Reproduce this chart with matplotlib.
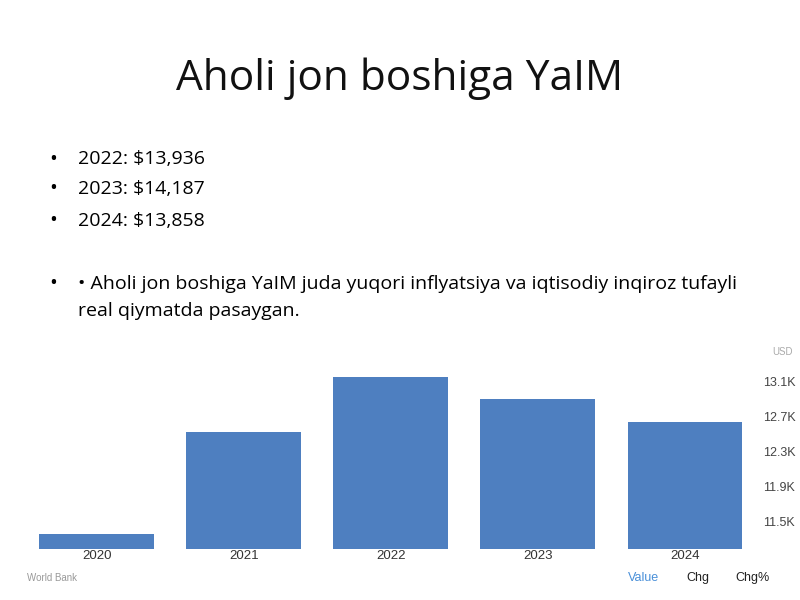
import matplotlib.pyplot as plt

# slide text
title = "Aholi jon boshiga YaIM"
bullets = ["2022: $13,936", "2023: $14,187", "2024: $13,858"]
note = ["• Aholi jon boshiga YaIM juda yuqori inflyatsiya va iqtisodiy inqiroz tufayli",
        "real qiymatda pasaygan."]

# embedded chart data
years = ["2020", "2021", "2022", "2023", "2024"]
values = [11360, 12530, 13160, 12905, 12645]
yticks = [11500, 11900, 12300, 12700, 13100]
ytick_labels = ["11.5K", "11.9K", "12.3K", "12.7K", "13.1K"]

plt.rcParams['font.family'] = ['Open Sans', 'DejaVu Sans']

fig = plt.figure(figsize=(8, 6), dpi=100)
fig.patch.set_facecolor("white")

fig.text(0.5, 0.868, title, ha="center", va="center", fontsize=30.5, color="#111111")

ys = [0.735, 0.685, 0.632]
for y, b in zip(ys, bullets):
    fig.text(0.062, y, "•", ha="left", va="center", fontsize=15)
    fig.text(0.097, y, b, ha="left", va="center", fontsize=14)
fig.text(0.062, 0.527, "•", ha="left", va="center", fontsize=15)
fig.text(0.097, 0.527, note[0], ha="left", va="center", fontsize=14)
fig.text(0.097, 0.482, note[1], ha="left", va="center", fontsize=14)

# chart
ax = fig.add_axes([0.029, 0.085, 0.919, 0.3075])
ax.bar(range(len(years)), values, width=0.78, color="#4e7fc0", edgecolor="none")
ax.set_xlim(-0.5, 4.5)
ax.set_ylim(11190, 13300)
ax.set_xticks(range(len(years)))
ax.set_xticklabels(years, fontsize=9.5, color="#333333", family="Liberation Sans")
ax.yaxis.tick_right()
ax.set_yticks(yticks)
ax.set_yticklabels(ytick_labels, fontsize=9, color="#444444", family="Liberation Sans")
ax.tick_params(axis="both", length=0, pad=1)
ax.tick_params(axis="y", pad=3)
for s in ax.spines.values():
    s.set_visible(False)

fig.text(0.978, 0.413, "USD", ha="center", va="center", fontsize=7, color="#aaaaaa",
         family="Liberation Sans")
fig.text(0.034, 0.037, "World Bank", ha="left", va="center", fontsize=7, color="#999999",
         family="Liberation Sans")
fig.text(0.804, 0.037, "Value", ha="center", va="center", fontsize=9, color="#4a90d9",
         family="Liberation Sans")
fig.text(0.872, 0.037, "Chg", ha="center", va="center", fontsize=9, color="#222222",
         family="Liberation Sans")
fig.text(0.94, 0.037, "Chg%", ha="center", va="center", fontsize=9, color="#222222",
         family="Liberation Sans")

fig.savefig("out.png", dpi=100)
